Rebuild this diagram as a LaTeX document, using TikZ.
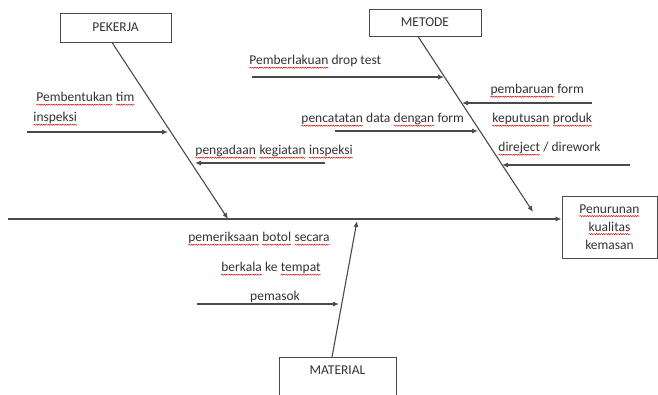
\documentclass[tikz,border=0pt]{standalone}
\usepackage{fontspec}
\setmainfont{Carlito}
\usetikzlibrary{arrows.meta,decorations.pathmorphing}
\definecolor{ln}{HTML}{4A4A4A}
\definecolor{tx}{HTML}{333333}
\newcommand\sq[1]{\tikz[baseline=0pt,x=1pt,y=1pt]{\node[anchor=base west,inner sep=0pt,outer sep=0pt,draw=none,fill=none,minimum size=0pt,align=none] (w) at (0,0) {#1};
  \draw[red!85!black, line width=0.45pt, decorate, decoration={snake, amplitude=0.6pt, segment length=2.4pt}] ([yshift=-2.8pt]w.base west) -- ([yshift=-2.8pt]w.base east);}}
\tikzset{
  box/.style={draw=ln, line width=0.9pt, fill=white, inner sep=0pt, font=\fontsize{13.5}{15}\selectfont, text=tx},
  lbl/.style={font=\fontsize{13.5}{15}\selectfont, text=tx, inner sep=0pt},
  arr/.style={draw=ln, line width=1.1pt, -{Latex[length=6pt,width=5pt]}}
}
\begin{document}
\begin{tikzpicture}[x=1pt,y=-1pt]
\useasboundingbox (0,0) rectangle (658,394);
\clip (0,0) rectangle (658,394);
\fill[white] (0,0) rectangle (658,394);
% category boxes
\node[box, minimum width=111pt, minimum height=29pt] (pekerja) at (115.5,27.5) {PEKERJA};
\node[box, minimum width=112pt, minimum height=27pt] (metode) at (425,22.5) {METODE};
\node[box, minimum width=117pt, minimum height=50pt, anchor=north] (material) at (337.5,357) {};
\node[lbl] (materialtxt) at (337.5,370) {MATERIAL};
\node[box, minimum width=95pt, minimum height=62pt, align=center, font=\fontsize{13.5}{18}\selectfont] (effect) at (609.5,227) {\sq{Penurunan}\\ \sq{kualitas}\\ kemasan};
% spine
\coordinate (spineL) at (8,219);
\draw[arr] (spineL) -- (spineL -| effect.west);
% bones
\coordinate (pekE) at (228,219);
\coordinate (metE) at (533,212);
\coordinate (matE) at (357,221);
\draw[arr] (pekerja.south -| 112,0) -- (pekE);
\draw[arr] (metode.south -| 418,0) -- (metE);
\draw[arr] (material.north -| 332,0) -- (matE);
% PEKERJA causes
\node[lbl, anchor=west] (c1a) at (36,99) {\sq{Pembentukan} \sq{tim}};
\node[lbl, anchor=west] (c1b) at (33,119) {\sq{inspeksi}};
\coordinate (a1s) at (27,132); \coordinate (a1e) at (168,132);
\draw[arr] (a1s) -- (a1e);
\node[lbl, anchor=west] (c2) at (195,152) {\sq{pengadaan} \sq{kegiatan} \sq{inspeksi}};
\coordinate (a2s) at (325,163); \coordinate (a2e) at (195,163);
\draw[arr] (a2s) -- (a2e);
% METODE causes
\node[lbl, anchor=west] (c3) at (249,62) {\sq{Pemberlakuan} drop test};
\coordinate (a3s) at (252,77); \coordinate (a3e) at (444,77);
\draw[arr] (a3s) -- (a3e);
\node[lbl, anchor=east] (c4) at (584,91) {\sq{pembaruan} form};
\coordinate (a4s) at (592,103); \coordinate (a4e) at (462,103);
\draw[arr] (a4s) -- (a4e);
\node[lbl, anchor=west] (c5) at (301,120) {\sq{pencatatan} data \sq{dengan} form};
\coordinate (a5s) at (335,131); \coordinate (a5e) at (478,131);
\draw[arr] (a5s) -- (a5e);
\node[lbl, anchor=west] (c6a) at (492,120) {\sq{keputusan} \sq{produk}};
\node[lbl, anchor=west] (c6b) at (498,149) {\sq{direject} / dirework};
\coordinate (a6s) at (630,165); \coordinate (a6e) at (502,165);
\draw[arr] (a6s) -- (a6e);
% MATERIAL causes
\node[lbl] (c7a) at (259,239) {\sq{pemeriksaan} \sq{botol} \sq{secara}};
\node[lbl] (c7b) at (271,269) {\sq{berkala} ke \sq{tempat}};
\node[lbl] (c7c) at (275,297) {pemasok};
\coordinate (a7s) at (197,304); \coordinate (a7e) at (339,304);
\draw[arr] (a7s) -- (a7e);
\end{tikzpicture}
\end{document}
